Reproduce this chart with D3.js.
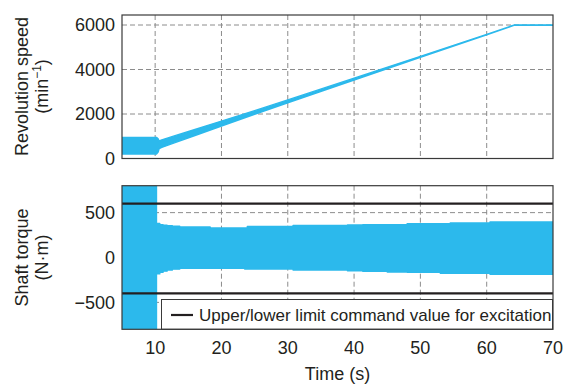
<!DOCTYPE html>
<html>
<head>
<meta charset="utf-8">
<script src="https://cdn.jsdelivr.net/npm/d3@7"></script>
<style>
  html, body { margin: 0; padding: 0; background: #fff; }
  svg { display: block; font-family: "Liberation Sans", Arial, sans-serif; }
</style>
</head>
<body>
<svg id="chart" width="565" height="385"></svg>
<script>
// Time ticks shared by both panels (s)
const timeTicks = [10, 20, 30, 40, 50, 60, 70];

// Revolution speed band (min^-1): dense oscillation shown as its upper/lower envelope
const speedTime = [5, 10.2, 10.45, 10.6, 11, 13, 16, 20, 25, 30, 40, 50, 60, 64.2, 70];
const speedHigh = [950, 950, 890, 790, 840, 1025, 1305, 1680, 2150, 2635, 3610, 4592, 5580, 6008, 6008];
const speedLow  = [200, 200, 290, 440, 500, 715, 1035, 1460, 1990, 2505, 3530, 4548, 5560, 5992, 5992];
const speedTicks = [0, 2000, 4000, 6000];

// Shaft torque band (N·m): envelope of the excitation signal, held between samples
const torqueTime  = [5, 10.2, 10.7, 11.2, 11.8, 12.6, 13.7, 18.3, 23.5, 23.9, 30.8, 39, 41.3, 45, 48, 53, 54.5, 60.5, 70];
const torqueHigh  = [900, 380, 366, 360, 355, 350, 341, 330, 330, 347, 358, 362, 366, 366, 377, 377, 385, 396, 396];
const torqueLow   = [-900, -183, -165, -152, -140, -130, -121, -121, -129, -129, -140, -147, -154, -161, -165, -176, -176, -187, -187];
const torqueTicks = [-500, 0, 500];

// Excitation command limits (N·m)
const limitValues = [600, -400];
const legendLabel = "Upper/lower limit command value for excitation";

const svg = d3.select("#chart");
const cyan = "#2cb9ec";
const frameColor = "#3a3a3a";
const gridColor = "#8c8c8c";

const left = 122, right = 553;
const x = d3.scaleLinear().domain([5, 70]).range([left, right]);

const panels = [
  { id: "speed", top: 15, bottom: 158.5, domain: [0, 6450], ticks: speedTicks,
    time: speedTime, hi: speedHigh, lo: speedLow, curve: d3.curveLinear },
  { id: "torque", top: 185.7, bottom: 329.3, domain: [-800, 800], ticks: torqueTicks,
    time: torqueTime, hi: torqueHigh, lo: torqueLow, curve: d3.curveStepAfter }
];

const fmt = v => v < 0 ? "\u2212" + Math.abs(v) : String(v);

panels.forEach(p => {
  const y = d3.scaleLinear().domain(p.domain).range([p.bottom, p.top]);
  p.y = y;
  const g = svg.append("g");

  g.append("clipPath").attr("id", "clip-" + p.id)
    .append("rect").attr("x", left).attr("y", p.top)
    .attr("width", right - left).attr("height", p.bottom - p.top);

  // dashed grid
  const grid = g.append("g").attr("stroke", gridColor).attr("stroke-width", 1)
    .attr("stroke-dasharray", "5,3");
  grid.selectAll("line.v").data(timeTicks.filter(t => t < 70)).join("line")
    .attr("x1", d => x(d)).attr("x2", d => x(d))
    .attr("y1", p.top).attr("y2", p.bottom);
  grid.selectAll("line.h").data(p.ticks.filter(v => y(v) > p.top + 1 && y(v) < p.bottom - 1)).join("line")
    .attr("x1", left).attr("x2", right)
    .attr("y1", d => y(d)).attr("y2", d => y(d));

  // data band
  const rows = p.time.map((t, i) => ({ t, hi: p.hi[i], lo: p.lo[i] }));
  const area = d3.area().curve(p.curve).x(d => x(d.t)).y0(d => y(d.lo)).y1(d => y(d.hi));
  g.append("path").datum(rows)
    .attr("clip-path", "url(#clip-" + p.id + ")")
    .attr("d", area)
    .attr("fill", cyan).attr("stroke", cyan).attr("stroke-width", 1.4)
    .attr("stroke-linejoin", "round");

  // y tick labels
  g.selectAll("text.yt").data(p.ticks).join("text")
    .attr("x", 115).attr("y", d => y(d)).attr("dy", "0.35em")
    .attr("text-anchor", "end").attr("font-size", 18).attr("fill", "#231f20")
    .text(fmt);
});

// torque panel extras: limit lines and legend
const tq = panels[1];
svg.append("g").selectAll("line").data(limitValues).join("line")
  .attr("x1", left).attr("x2", right)
  .attr("y1", d => tq.y(d)).attr("y2", d => tq.y(d))
  .attr("stroke", "#231f20").attr("stroke-width", 2.2);

const lg = svg.append("g");
lg.append("rect").attr("x", 161.5).attr("y", 299.5).attr("width", 391).attr("height", 29.8)
  .attr("fill", "#fff").attr("stroke", frameColor).attr("stroke-width", 1);
lg.append("line").attr("x1", 171).attr("x2", 193).attr("y1", 315).attr("y2", 315)
  .attr("stroke", "#231f20").attr("stroke-width", 2.2);
lg.append("text").attr("x", 199).attr("y", 321).attr("font-size", 17).attr("fill", "#231f20")
  .text(legendLabel);

// frames on top
panels.forEach(p => {
  svg.append("rect").attr("x", left).attr("y", p.top)
    .attr("width", right - left).attr("height", p.bottom - p.top)
    .attr("fill", "none").attr("stroke", frameColor).attr("stroke-width", 1.2);
});

// x tick labels (bottom panel only)
svg.append("g").selectAll("text").data(timeTicks).join("text")
  .attr("x", d => x(d)).attr("y", 354)
  .attr("text-anchor", "middle").attr("font-size", 18).attr("fill", "#231f20")
  .text(d => d);

svg.append("text").attr("x", (left + right) / 2).attr("y", 380)
  .attr("text-anchor", "middle").attr("font-size", 18).attr("fill", "#231f20")
  .text("Time (s)");

// axis titles
function yTitle(cy, line1, line2) {
  const t = svg.append("g").attr("fill", "#231f20").attr("font-size", 18);
  t.append("text").attr("transform", `translate(28,${cy}) rotate(-90)`)
    .attr("text-anchor", "middle").text(line1);
  const t2 = t.append("text").attr("transform", `translate(48,${cy}) rotate(-90)`)
    .attr("text-anchor", "middle");
  line2(t2);
}
yTitle(86.5, "Revolution speed", el => {
  el.append("tspan").text("(min");
  el.append("tspan").attr("font-size", 12).attr("dy", -7).text("\u22121");
  el.append("tspan").attr("dy", 7).text(")");
});
yTitle(257.5, "Shaft torque", el => el.text("(N\u00b7m)"));
</script>
</body>
</html>
